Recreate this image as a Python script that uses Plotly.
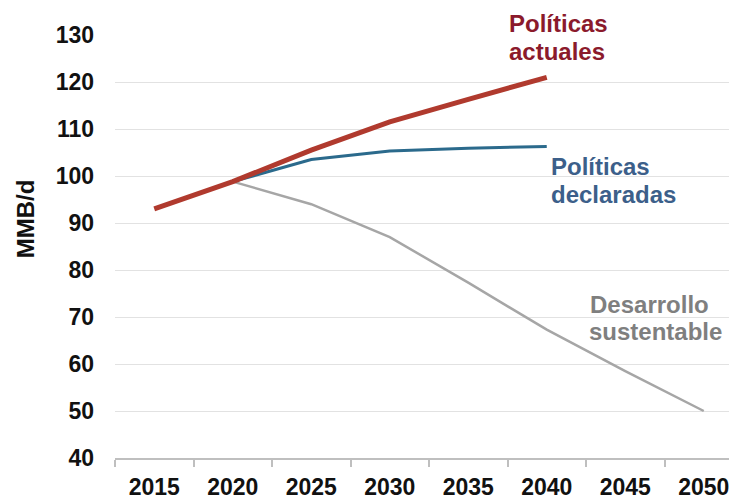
import plotly.graph_objects as go

years = [2015, 2020, 2025, 2030, 2035, 2040, 2045, 2050]
tick_labels = ["2015", "2020", "2025", "2030", "2035", "2040", "2045", "2050"]
y_ticks = [40, 50, 60, 70, 80, 90, 100, 110, 120, 130]

actuales_years = [2015, 2020, 2025, 2030, 2035, 2040]
actuales = [93.0, 98.8, 105.5, 111.5, 116.3, 121.0]

declaradas_years = [2020, 2025, 2030, 2035, 2040]
declaradas = [98.8, 103.5, 105.3, 105.9, 106.3]

sustentable_years = [2020, 2025, 2030, 2035, 2040, 2045, 2050]
sustentable = [98.8, 94.0, 87.0, 77.3, 67.3, 58.5, 50.0]

font_family = "Liberation Sans, Arial, sans-serif"

fig = go.Figure()
fig.add_trace(go.Scatter(x=sustentable_years, y=sustentable, mode="lines",
                         line=dict(color="#A6A6A6", width=2.5), name="Desarrollo sustentable"))
fig.add_trace(go.Scatter(x=declaradas_years, y=declaradas, mode="lines",
                         line=dict(color="#2B6A8C", width=3), name="Políticas declaradas"))
fig.add_trace(go.Scatter(x=actuales_years, y=actuales, mode="lines",
                         line=dict(color="#B03A2E", width=5), name="Políticas actuales"))

fig.update_layout(
    width=737, height=500,
    margin=dict(l=107, r=2, t=27, b=50),
    paper_bgcolor="white", plot_bgcolor="white",
    showlegend=False,
    font=dict(family=font_family, size=23, color="#111111"),
    xaxis=dict(
        range=[2012.5, 2052.5], automargin=False,
        tickmode="array", tickvals=years, ticktext=["<b>%s</b>" % t for t in tick_labels],
        ticks="", showgrid=False, zeroline=False, ticklabelstandoff=8,
        showline=True, linecolor="#BFBFBF", linewidth=1.5,
        minor=dict(tickmode="array", tickvals=[2012.5 + 5 * i for i in range(9)],
                   ticks="outside", ticklen=7, tickcolor="#BFBFBF", tickwidth=1.5, showgrid=False),
        tickfont=dict(size=23, family=font_family, color="#111111"),
    ),
    yaxis=dict(
        range=[40, 130], automargin=False, tickmode="array", tickvals=y_ticks,
        ticktext=["<b>%d</b>" % v for v in y_ticks],
        showgrid=True, gridcolor="#E2E2E2", gridwidth=1, zeroline=False,
        showline=False, ticks="", ticklabelstandoff=20,
        tickfont=dict(size=23, family=font_family, color="#111111"),
    ),
)

fig.add_annotation(x=-0.143, y=0.565, xref="paper", yref="paper", text="<b>MMB/d</b>",
                   textangle=-90, showarrow=False, xanchor="center", yanchor="middle",
                   font=dict(size=24, family=font_family, color="#111111"))

labels = [
    ("Políticas", 0.624, 1.027, "#8B1A2C"),
    ("actuales", 0.624, 0.961, "#8B1A2C"),
    ("Políticas", 0.691, 0.689, "#3C5F8A"),
    ("declaradas", 0.691, 0.623, "#3C5F8A"),
    ("Desarrollo", 0.753, 0.363, "#7F7F7F"),
    ("sustentable", 0.751, 0.299, "#7F7F7F"),
]
for text, px, py, col in labels:
    fig.add_annotation(x=px, y=py, xref="paper", yref="paper", text="<b>%s</b>" % text,
                       showarrow=False, xanchor="left", yanchor="middle", align="left",
                       font=dict(size=24, family=font_family, color=col))

fig.write_html("out.html")
